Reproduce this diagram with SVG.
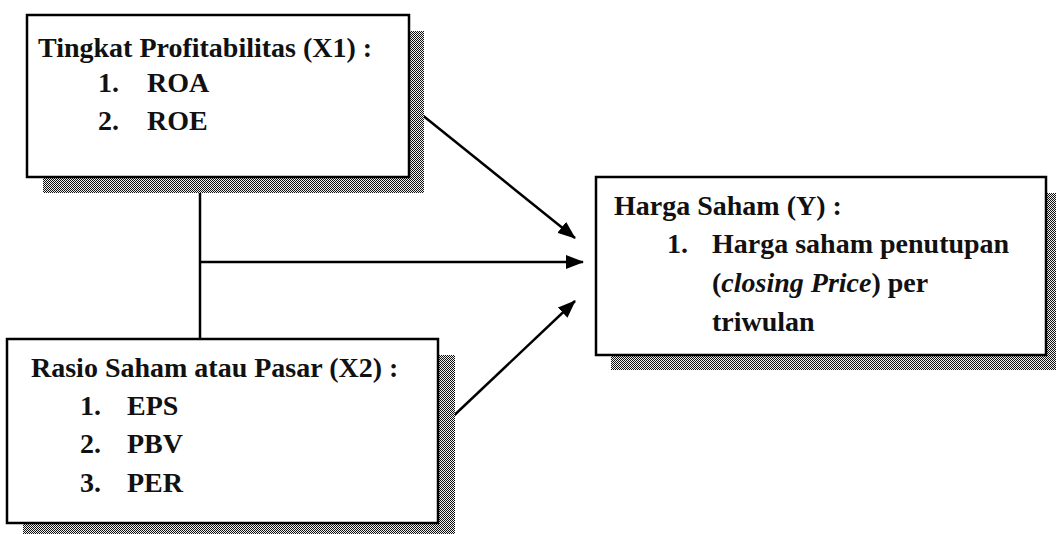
<svg xmlns="http://www.w3.org/2000/svg" width="1056" height="534" viewBox="0 0 1056 534">
  <style>
    .box { fill: #fff; stroke: #000; stroke-width: 2.5; }
    .shadow { fill: url(#dither); }
    .t { font-family: "Liberation Serif", "Times New Roman", serif; font-size: 28px; font-weight: bold; fill: #111; }
    .conn { stroke: #000; stroke-width: 2.5; fill: none; }
  </style>
  <defs>
    <pattern id="dither" width="2" height="2" patternUnits="userSpaceOnUse">
      <rect width="2" height="2" fill="#f0f0f0"/>
      <rect x="0" y="0" width="1" height="1" fill="#111"/>
      <rect x="1" y="1" width="1" height="1" fill="#111"/>
    </pattern>
    <marker id="arrow" viewBox="0 0 18 14" refX="17" refY="7" markerWidth="18" markerHeight="14" markerUnits="userSpaceOnUse" orient="auto">
      <path d="M0,0 L18,7 L0,14 Z" fill="#000"/>
    </marker>
  </defs>

  <g id="connectors">
    <line class="conn" x1="200" y1="177" x2="200" y2="339"/>
    <line class="conn" x1="200" y1="262" x2="583" y2="262" marker-end="url(#arrow)"/>
    <line class="conn" x1="411" y1="106" x2="575" y2="238" marker-end="url(#arrow)"/>
    <line class="conn" x1="446" y1="423" x2="575" y2="301" marker-end="url(#arrow)"/>
  </g>

  <g id="node-x1">
    <rect class="shadow" x="43" y="31" width="381" height="162"/>
    <rect class="box" x="27" y="15" width="382" height="162"/>
    <text class="t" x="38" y="57">Tingkat Profitabilitas (X1) :</text>
    <text class="t" x="98" y="92">1.</text>
    <text class="t" x="147" y="92">ROA</text>
    <text class="t" x="98" y="130">2.</text>
    <text class="t" x="147" y="130">ROE</text>
  </g>

  <g id="node-x2">
    <rect class="shadow" x="23" y="355" width="432" height="179"/>
    <rect class="box" x="7" y="339" width="431" height="184"/>
    <text class="t" x="31" y="377">Rasio Saham atau Pasar (X2) :</text>
    <text class="t" x="80" y="415">1.</text>
    <text class="t" x="127" y="415">EPS</text>
    <text class="t" x="80" y="453">2.</text>
    <text class="t" x="127" y="453">PBV</text>
    <text class="t" x="80" y="492">3.</text>
    <text class="t" x="127" y="492">PER</text>
  </g>

  <g id="node-y">
    <rect class="shadow" x="611" y="193" width="449" height="177"/>
    <rect class="box" x="596" y="177" width="450" height="178"/>
    <text class="t" x="614" y="215">Harga Saham (Y) :</text>
    <text class="t" x="667" y="253">1.</text>
    <text class="t" x="712" y="253">Harga saham penutupan</text>
    <text class="t" x="712" y="292">(<tspan font-style="italic">closing Price</tspan>) per</text>
    <text class="t" x="712" y="331">triwulan</text>
  </g>
</svg>
